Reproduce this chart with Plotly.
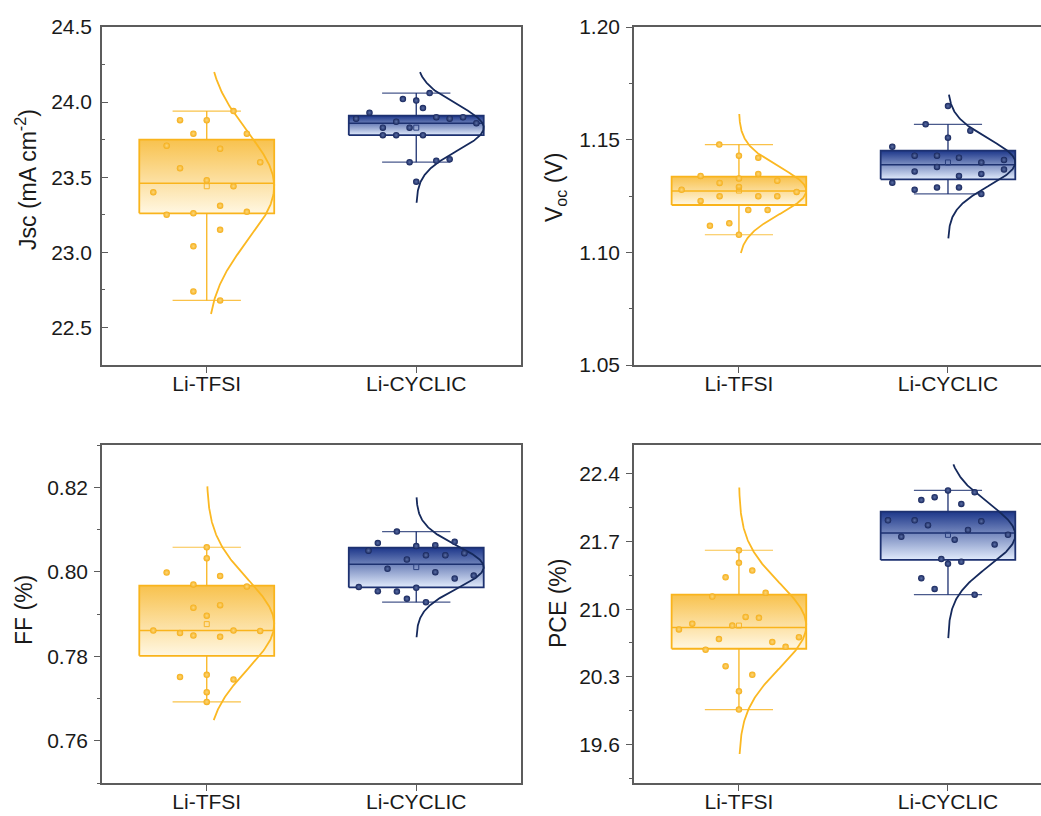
import numpy as np
import plotly.graph_objects as go

categories = ["Li-TFSI", "Li-CYCLIC"]

# ---------------- data ----------------
# Panel 1: Jsc (mA cm-2)
jsc_tfsi = [23.94, 23.88, 23.88, 23.79, 23.79, 23.71, 23.69, 23.60, 23.56, 23.48,
            23.40, 23.44, 23.31, 23.27, 23.25, 23.26, 23.15, 23.04, 22.74, 22.68]
jsc_tfsi_jit = [80, -80, 0, -40, 120, -120, 40, 160, -80, 0,
                -160, 80, 40, 120, -120, -40, 40, -40, -40, 40]
jsc_cyc = [24.06, 24.02, 24.01, 23.96, 23.93, 23.89, 23.90, 23.89, 23.90, 23.86,
           23.87, 23.83, 23.83, 23.78, 23.78, 23.78, 23.60, 23.61, 23.62, 23.47]
jsc_cyc_jit = [40, -40, 0, 20, -140, -180, 60, 100, 140, 180,
               -60, -100, -20, -100, -60, 20, -20, 60, 100, 0]
# box stats: q1, median, q3, mean, whisker low, whisker high
jsc_tfsi_stats = [23.26, 23.46, 23.75, 23.44, 22.68, 23.94]
jsc_cyc_stats = [23.78, 23.86, 23.91, 23.83, 23.60, 24.06]
jsc_curve_span = [[22.59, 24.20], [23.33, 24.20]]

# Panel 2: Voc (V)
voc_tfsi = [1.1478, 1.1429, 1.1420, 1.1348, 1.1339, 1.1328, 1.1318, 1.1308, 1.1290, 1.1278,
            1.1268, 1.1249, 1.1249, 1.1249, 1.1228, 1.1188, 1.1188, 1.1118, 1.1129, 1.1078]
voc_tfsi_jit = [-59, 0, 58, 58, -115, 0, 115, -58, 0, -172,
                173, -58, 58, 115, -115, 28, 86, -87, -29, 0]
voc_cyc = [1.1649, 1.1568, 1.1540, 1.1509, 1.1469, 1.1429, 1.1429, 1.1420, 1.1410, 1.1399,
           1.1379, 1.1359, 1.1368, 1.1339, 1.1348, 1.1309, 1.1278, 1.1288, 1.1288, 1.1259]
voc_cyc_jit = [0, -67, 67, 0, -167, -100, -33, 33, 168, 100,
               -33, -100, 168, 33, 100, -167, -100, -33, 33, 100]
voc_tfsi_stats = [1.1210, 1.1272, 1.1336, 1.1274, 1.1078, 1.1478]
voc_cyc_stats = [1.1324, 1.1389, 1.1451, 1.1399, 1.1259, 1.1568]
voc_curve_span = [[1.0997, 1.1614], [1.1062, 1.1700]]

# Panel 3: FF
ff_tfsi = [0.8058, 0.8032, 0.7998, 0.7990, 0.7970, 0.7965, 0.7915, 0.7921, 0.7896, 0.7861,
           0.7861, 0.7860, 0.7855, 0.7849, 0.7846, 0.7751, 0.7756, 0.7745, 0.7715, 0.7692]
ff_tfsi_jit = [0, 0, -120, 40, -40, 120, -40, 40, 0, -160,
               80, 160, -80, -40, 40, -80, 0, 80, 0, 0]
ff_cyc = [0.8095, 0.8068, 0.8061, 0.8063, 0.8071, 0.8050, 0.8039, 0.8039, 0.8044, 0.8029,
          0.8007, 0.7999, 0.7991, 0.7984, 0.7964, 0.7962, 0.7954, 0.7953, 0.7936, 0.7928]
ff_cyc_jit = [-58, -115, 0, 57, 115, -143, 29, 87, 144, -28,
              -86, 57, 172, 115, -172, 0, -115, -58, -28, 29]
ff_tfsi_stats = [0.7801, 0.7861, 0.7967, 0.7876, 0.7692, 0.8058]
ff_cyc_stats = [0.7963, 0.8018, 0.8057, 0.8011, 0.7928, 0.8095]
ff_curve_span = [[0.7649, 0.8202], [0.7845, 0.8176]]

# Panel 4: PCE (%)
pce_tfsi = [21.61, 21.48, 21.40, 21.33, 21.17, 21.13, 20.92, 20.91, 20.85, 20.83,
            20.79, 20.69, 20.71, 20.66, 20.61, 20.58, 20.41, 20.32, 20.15, 19.96]
pce_tfsi_jit = [0, 0, 40, -40, 80, -80, 20, 60, -140, -20,
                -180, -60, 180, 100, 140, -100, -40, 40, 0, 0]
pce_cyc = [22.23, 22.21, 22.16, 22.13, 22.09, 21.92, 21.92, 21.91, 21.87, 21.82,
           21.75, 21.77, 21.72, 21.67, 21.52, 21.47, 21.49, 21.32, 21.21, 21.15]
pce_cyc_jit = [0, 80, -40, -80, 40, -180, -100, 100, -60, 60,
               -140, 180, 20, 140, -20, 0, 40, -80, -40, 80]
pce_tfsi_stats = [20.59, 20.81, 21.15, 20.83, 19.96, 21.61]
pce_cyc_stats = [21.51, 21.79, 22.01, 21.77, 21.15, 22.23]
pce_curve_span = [[19.50, 22.26], [20.70, 22.50]]

# ---------------- styling ----------------
FONT = "Liberation Sans, Arial, sans-serif"
HALF_W = 0.322
CAP_HALF = 0.163
JIT = 1.0 / 627.0

STYLE = [
    dict(line="#F9B41C", curve="#FBB822", top="#F8C24E", bot="#FFF7E2",
         pt="#F5AE18", ptg="#FCD77C", mean="#F6B52A"),
    dict(line="#1D3170", curve="#15295C", top="#1D378A", bot="#E1EBFC",
         pt="#15245A", ptg="#5B6FA6", mean="#2A3F7E"),
]

panels = [
    (jsc_tfsi, jsc_tfsi_jit, jsc_tfsi_stats, jsc_cyc, jsc_cyc_jit, jsc_cyc_stats, jsc_curve_span),
    (voc_tfsi, voc_tfsi_jit, voc_tfsi_stats, voc_cyc, voc_cyc_jit, voc_cyc_stats, voc_curve_span),
    (ff_tfsi, ff_tfsi_jit, ff_tfsi_stats, ff_cyc, ff_cyc_jit, ff_cyc_stats, ff_curve_span),
    (pce_tfsi, pce_tfsi_jit, pce_tfsi_stats, pce_cyc, pce_cyc_jit, pce_cyc_stats, pce_curve_span),
]

fig = go.Figure()

for p, (v0, j0, s0, v1, j1, s1, spans) in enumerate(panels):
    sfx = "" if p == 0 else str(p + 1)
    xa, ya = "x" + sfx, "y" + sfx
    for g, (vals, jit, st) in enumerate([(v0, j0, s0), (v1, j1, s1)]):
        c = STYLE[g]
        q1, med, q3, mean, wlo, whi = st
        cx = float(g)
        # gradient box
        fig.add_trace(go.Scatter(
            x=[cx - HALF_W, cx + HALF_W, cx + HALF_W, cx - HALF_W, cx - HALF_W],
            y=[q1, q1, q3, q3, q1], mode="lines", fill="toself",
            fillgradient=dict(type="vertical", start=q1, stop=q3,
                              colorscale=[[0, c["bot"]], [1, c["top"]]]),
            line=dict(color=c["line"], width=1.8), xaxis=xa, yaxis=ya,
            hoverinfo="skip", showlegend=False))
        # median
        fig.add_trace(go.Scatter(x=[cx - HALF_W, cx + HALF_W], y=[med, med], mode="lines",
                                 line=dict(color=c["line"], width=1.5), xaxis=xa, yaxis=ya,
                                 hoverinfo="skip", showlegend=False))
        # whiskers
        fig.add_trace(go.Scatter(x=[cx, cx, None, cx, cx], y=[q3, whi, None, q1, wlo], mode="lines",
                                 line=dict(color=c["line"], width=1.3), xaxis=xa, yaxis=ya,
                                 hoverinfo="skip", showlegend=False))
        fig.add_trace(go.Scatter(x=[cx - CAP_HALF, cx + CAP_HALF, None, cx - CAP_HALF, cx + CAP_HALF],
                                 y=[whi, whi, None, wlo, wlo], mode="lines",
                                 line=dict(color=c["line"], width=1.2), xaxis=xa, yaxis=ya,
                                 opacity=0.8, hoverinfo="skip", showlegend=False))
        # normal curve from data mean / sd
        arr = np.array(vals)
        sd = arr.std(ddof=1)
        lo, hi = spans[g]
        yy = np.linspace(lo, hi, 200)
        xx = cx + HALF_W * np.exp(-0.5 * ((yy - mean) / sd) ** 2)
        fig.add_trace(go.Scatter(x=xx, y=yy, mode="lines",
                                 line=dict(color=c["curve"], width=1.8), xaxis=xa, yaxis=ya,
                                 hoverinfo="skip", showlegend=False))
        # points
        fig.add_trace(go.Scatter(x=cx + np.array(jit) * JIT, y=vals, mode="markers",
                                 marker=dict(size=6.5, color=c["pt"],
                                             gradient=dict(type="radial", color=c["ptg"]),
                                             line=dict(width=0)),
                                 xaxis=xa, yaxis=ya, hoverinfo="y", showlegend=False))
        # mean marker
        fig.add_trace(go.Scatter(x=[cx], y=[mean], mode="markers",
                                 marker=dict(symbol="square-open", size=5, color=c["mean"],
                                             line=dict(width=1, color=c["mean"])),
                                 xaxis=xa, yaxis=ya, hoverinfo="skip", showlegend=False))

W, H = 1041, 816
LINEC = "#5c5c5c"
tickfont = dict(family=FONT, size=21, color="#1a1a1a")

def xax(dom, rng):
    return dict(domain=dom, range=rng, tickvals=[0, 1], ticktext=categories,
                ticks="outside", ticklen=6, tickcolor=LINEC, tickwidth=1.3,
                showline=True, linecolor=LINEC, linewidth=1.6, mirror=True,
                showgrid=False, zeroline=False, tickfont=tickfont, fixedrange=True,
                automargin=False, ticklabelstandoff=-7)

def yax(dom, rng, tick0, dtick, fmt, minor_dt, inside, mirror):
    t = "inside" if inside else "outside"
    return dict(domain=dom, range=rng, tick0=tick0, dtick=dtick, tickformat=fmt,
                ticks=t, ticklen=6, tickcolor=LINEC, tickwidth=1.3,
                minor=dict(ticks=t, dtick=minor_dt, tick0=tick0, ticklen=3.5,
                           tickcolor=LINEC, tickwidth=1.2),
                showline=True, linecolor=LINEC, linewidth=1.6, mirror=mirror,
                showgrid=False, zeroline=False, tickfont=tickfont, fixedrange=True,
                automargin=False, ticklabelstandoff=4 if inside else 2)

left_dom = [102 / W, 521 / W]
right_dom = [634 / W, 1.0]
top_dom = [1 - 365 / H, 1 - 27 / H]
bot_dom = [1 - 783 / H, 1 - 445 / H]

fig.update_layout(
    template="none",
    width=W, height=H, margin=dict(l=0, r=0, t=0, b=0, pad=0),
    paper_bgcolor="white", plot_bgcolor="white", showlegend=False,
    font=dict(family=FONT, color="#1a1a1a"),
    xaxis=dict(xax(left_dom, [-0.5, 1.5]), anchor="y"),
    yaxis=dict(yax(top_dom, [22.25, 24.5], 22.5, 0.5, ".1f", 0.25, True, True), anchor="x"),
    xaxis2=dict(xax(right_dom, [-0.502, 1.445]), anchor="y2"),
    yaxis2=dict(yax(top_dom, [1.05, 1.20], 1.05, 0.05, ".2f", 0.025, False, False), anchor="x2"),
    xaxis3=dict(xax(left_dom, [-0.5, 1.5]), anchor="y3"),
    yaxis3=dict(yax(bot_dom, [0.75, 0.83], 0.76, 0.02, ".2f", 0.01, False, True), anchor="x3"),
    xaxis4=dict(xax(right_dom, [-0.502, 1.445]), anchor="y4"),
    yaxis4=dict(yax(bot_dom, [19.2, 22.7], 19.6, 0.7, ".1f", 0.35, False, False), anchor="x4"),
)

# (text, x centre px, y centre px)
titles = [
    ("Jsc (mA cm<sup>-2</sup>)", 26, 180),
    ("V<sub>oc</sub> (V)", 556, 188),
    ("FF (%)", 24, 610),
    ("PCE (%)", 558, 604),
]
for txt, xpx, ypx in titles:
    fig.add_annotation(text=txt, x=xpx / W, y=1 - ypx / H, xref="paper", yref="paper",
                       xanchor="center", yanchor="middle", textangle=-90, showarrow=False,
                       font=dict(family=FONT, size=23, color="#1a1a1a"))

fig.write_html("out.html")
